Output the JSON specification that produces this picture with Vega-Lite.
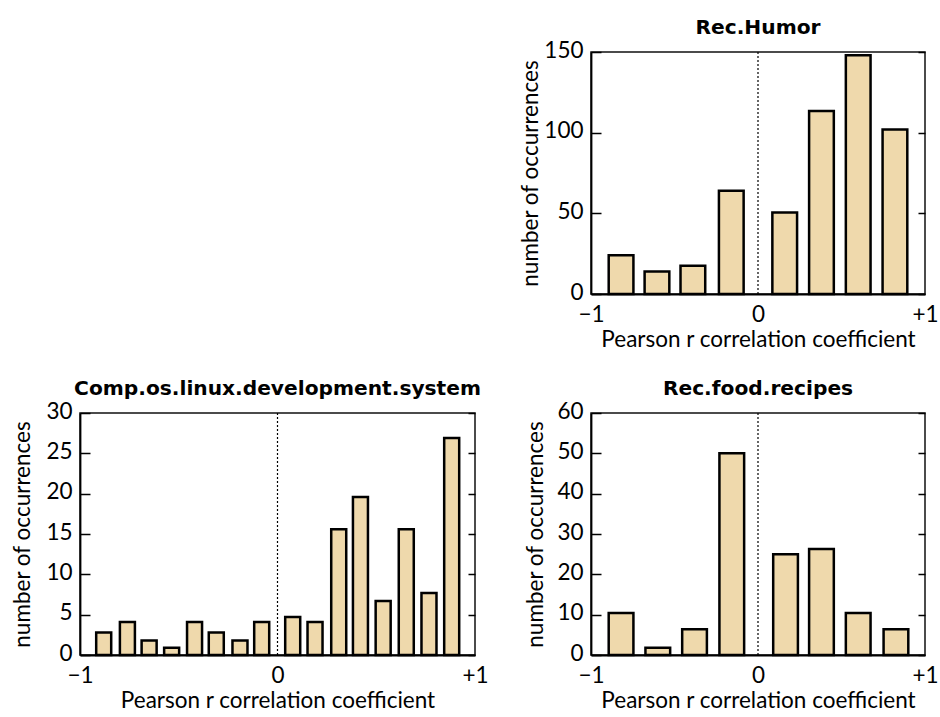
{
  "$schema": "https://vega.github.io/schema/vega-lite/v6.json",
  "background": "white",
  "padding": {"left": 10, "top": 17, "right": 5, "bottom": 5},
  "config": {
    "font": "Lato",
    "view": {"stroke": "#111", "strokeWidth": 1.5},
    "axis": {"labelFont": "Lato", "titleFont": "Lato", "labelFontSize": 22.5, "titleFontSize": 22.5, "titleFontWeight": "normal", "labelColor": "#000", "titleColor": "#000", "domainColor": "#000", "domainWidth": 1.8, "labelFlush": false, "labelOverlap": false},
    "title": {"font": "DejaVu Sans", "fontSize": 20.2, "fontWeight": "bold", "color": "#000", "offset": 1}
  },
  "datasets": {
    "humor": [
      {"lo": -0.894, "hi": -0.746, "count": 24},
      {"lo": -0.679, "hi": -0.531, "count": 14},
      {"lo": -0.464, "hi": -0.316, "count": 17.5},
      {"lo": -0.234, "hi": -0.086, "count": 64},
      {"lo": 0.086, "hi": 0.234, "count": 50.5},
      {"lo": 0.306, "hi": 0.454, "count": 113.5},
      {"lo": 0.526, "hi": 0.674, "count": 148},
      {"lo": 0.746, "hi": 0.894, "count": 102}
    ],
    "linux": [
      {"lo": -0.918, "hi": -0.842, "count": 2.8},
      {"lo": -0.798, "hi": -0.722, "count": 4.1},
      {"lo": -0.688, "hi": -0.612, "count": 1.8},
      {"lo": -0.574, "hi": -0.498, "count": 0.9},
      {"lo": -0.458, "hi": -0.382, "count": 4.1},
      {"lo": -0.348, "hi": -0.272, "count": 2.8},
      {"lo": -0.228, "hi": -0.152, "count": 1.8},
      {"lo": -0.118, "hi": -0.042, "count": 4.1},
      {"lo": 0.039, "hi": 0.115, "count": 4.7},
      {"lo": 0.152, "hi": 0.228, "count": 4.1},
      {"lo": 0.272, "hi": 0.348, "count": 15.6},
      {"lo": 0.382, "hi": 0.458, "count": 19.6},
      {"lo": 0.497, "hi": 0.573, "count": 6.7},
      {"lo": 0.614, "hi": 0.690, "count": 15.6},
      {"lo": 0.729, "hi": 0.805, "count": 7.7},
      {"lo": 0.844, "hi": 0.920, "count": 26.9}
    ],
    "food": [
      {"lo": -0.894, "hi": -0.746, "count": 10.4},
      {"lo": -0.674, "hi": -0.526, "count": 1.8},
      {"lo": -0.454, "hi": -0.306, "count": 6.4},
      {"lo": -0.231, "hi": -0.083, "count": 50},
      {"lo": 0.091, "hi": 0.239, "count": 25},
      {"lo": 0.306, "hi": 0.454, "count": 26.3},
      {"lo": 0.526, "hi": 0.674, "count": 10.4},
      {"lo": 0.752, "hi": 0.900, "count": 6.4}
    ],
    "zero": [{"r": 0}]
  },
  "columns": 2,
  "align": "each",
  "bounds": "flush",
  "spacing": {"row": 119, "column": 116},
  "concat": [
    {
      "width": 395, "height": 242,
      "view": {"stroke": null},
      "data": {"values": []},
      "mark": "point"
    },
    {
      "width": 334, "height": 242,
      "title": "Rec.Humor",
      "layer": [
        {
          "data": {"name": "humor"},
          "mark": {"type": "bar", "fill": "#EFD9AC", "stroke": "#000", "strokeWidth": 2.5},
          "encoding": {
            "x": {"field": "lo", "type": "quantitative", "scale": {"domain": [-1, 1], "nice": false}, "axis": {"values": [-1, 0, 1], "ticks": false, "grid": false, "labelPadding": 9, "labelExpr": "datum.value < 0 ? '−1' : (datum.value > 0 ? '+1' : '0')", "title": "Pearson r correlation coefficient", "titlePadding": 3}},
            "x2": {"field": "hi"},
            "y": {"field": "count", "type": "quantitative", "scale": {"domain": [0, 150], "nice": false}, "axis": {"values": [0, 50, 100, 150], "ticks": false, "grid": true, "gridColor": "#000", "gridWidth": 1.3, "gridOpacity": 1, "gridDash": [10, 317, 7, 1000], "labelPadding": 8, "labelOffset": -2, "title": "number of occurrences", "titlePadding": 4, "minExtent": 45, "maxExtent": 45}},
            "y2": {"datum": 0}
          }
        },
        {
          "data": {"name": "zero"},
          "mark": {"type": "rule", "strokeDash": [2, 2], "strokeWidth": 1.2, "color": "#000"},
          "encoding": {
            "x": {"field": "r", "type": "quantitative", "axis": {"values": [-1, 0, 1], "ticks": false, "grid": false, "labelPadding": 9, "labelExpr": "datum.value < 0 ? '−1' : (datum.value > 0 ? '+1' : '0')", "title": "Pearson r correlation coefficient", "titlePadding": 3}}
          }
        }
      ]
    },
    {
      "width": 395, "height": 242,
      "title": "Comp.os.linux.development.system",
      "layer": [
        {
          "data": {"name": "linux"},
          "mark": {"type": "bar", "fill": "#EFD9AC", "stroke": "#000", "strokeWidth": 2.5},
          "encoding": {
            "x": {"field": "lo", "type": "quantitative", "scale": {"domain": [-1, 1], "nice": false}, "axis": {"values": [-1, 0, 1], "ticks": false, "grid": false, "labelPadding": 9, "labelExpr": "datum.value < 0 ? '−1' : (datum.value > 0 ? '+1' : '0')", "title": "Pearson r correlation coefficient", "titlePadding": 3}},
            "x2": {"field": "hi"},
            "y": {"field": "count", "type": "quantitative", "scale": {"domain": [0, 30], "nice": false}, "axis": {"values": [0, 5, 10, 15, 20, 25, 30], "ticks": false, "grid": true, "gridColor": "#000", "gridWidth": 1.3, "gridOpacity": 1, "gridDash": [10, 378, 7, 1000], "labelPadding": 8, "labelOffset": -2, "title": "number of occurrences", "titlePadding": 2, "minExtent": 44, "maxExtent": 44}},
            "y2": {"datum": 0}
          }
        },
        {
          "data": {"name": "zero"},
          "mark": {"type": "rule", "strokeDash": [2, 2], "strokeWidth": 1.2, "color": "#000"},
          "encoding": {
            "x": {"field": "r", "type": "quantitative", "axis": {"values": [-1, 0, 1], "ticks": false, "grid": false, "labelPadding": 9, "labelExpr": "datum.value < 0 ? '−1' : (datum.value > 0 ? '+1' : '0')", "title": "Pearson r correlation coefficient", "titlePadding": 3}}
          }
        }
      ]
    },
    {
      "width": 334, "height": 242,
      "title": "Rec.food.recipes",
      "layer": [
        {
          "data": {"name": "food"},
          "mark": {"type": "bar", "fill": "#EFD9AC", "stroke": "#000", "strokeWidth": 2.5},
          "encoding": {
            "x": {"field": "lo", "type": "quantitative", "scale": {"domain": [-1, 1], "nice": false}, "axis": {"values": [-1, 0, 1], "ticks": false, "grid": false, "labelPadding": 9, "labelExpr": "datum.value < 0 ? '−1' : (datum.value > 0 ? '+1' : '0')", "title": "Pearson r correlation coefficient", "titlePadding": 3}},
            "x2": {"field": "hi"},
            "y": {"field": "count", "type": "quantitative", "scale": {"domain": [0, 60], "nice": false}, "axis": {"values": [0, 10, 20, 30, 40, 50, 60], "ticks": false, "grid": true, "gridColor": "#000", "gridWidth": 1.3, "gridOpacity": 1, "gridDash": [10, 317, 7, 1000], "labelPadding": 8, "labelOffset": -2, "title": "number of occurrences", "titlePadding": 1, "minExtent": 43, "maxExtent": 43}},
            "y2": {"datum": 0}
          }
        },
        {
          "data": {"name": "zero"},
          "mark": {"type": "rule", "strokeDash": [2, 2], "strokeWidth": 1.2, "color": "#000"},
          "encoding": {
            "x": {"field": "r", "type": "quantitative", "axis": {"values": [-1, 0, 1], "ticks": false, "grid": false, "labelPadding": 9, "labelExpr": "datum.value < 0 ? '−1' : (datum.value > 0 ? '+1' : '0')", "title": "Pearson r correlation coefficient", "titlePadding": 3}}
          }
        }
      ]
    }
  ]
}
